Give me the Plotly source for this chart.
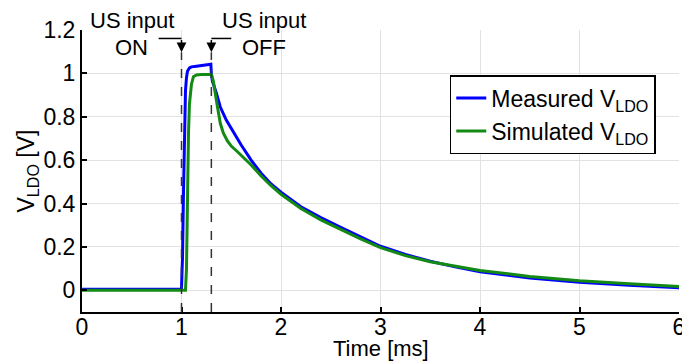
import plotly.graph_objects as go

# ---- data ----
t_meas = [0, 0.5, 0.99, 1.00, 1.01, 1.02, 1.03, 1.04, 1.05, 1.06, 1.08, 1.10, 1.15, 1.20, 1.25, 1.295,
          1.30, 1.31, 1.35, 1.39, 1.45, 1.50, 1.56, 1.60, 1.70, 1.80, 1.90, 2.00, 2.20, 2.40, 2.60, 2.80,
          3.00, 3.25, 3.50, 3.75, 4.00, 4.50, 5.00, 5.50, 6.00]
v_meas = [0.005, 0.005, 0.005, 0.01, 0.15, 0.45, 0.75, 0.92, 0.98, 1.01, 1.025, 1.03, 1.033, 1.035, 1.037, 1.042,
          1.00, 0.965, 0.91, 0.845, 0.785, 0.745, 0.70, 0.67, 0.60, 0.54, 0.49, 0.452, 0.385, 0.335, 0.29, 0.245,
          0.203, 0.165, 0.134, 0.108, 0.086, 0.057, 0.037, 0.023, 0.012]

t_sim = [0, 1.04, 1.05, 1.06, 1.07, 1.08, 1.10, 1.12, 1.15, 1.20, 1.30, 1.32, 1.34, 1.36, 1.39, 1.42,
         1.46, 1.50, 1.56, 1.62, 1.70, 1.80, 1.90, 2.00, 2.20, 2.40, 2.60, 2.80, 3.00, 3.25, 3.50,
         3.75, 4.00, 4.50, 5.00, 5.50, 6.00]
v_sim = [0, 0, 0.1, 0.45, 0.72, 0.86, 0.95, 0.985, 0.993, 0.995, 0.995, 0.965, 0.915, 0.85, 0.77, 0.725,
         0.69, 0.665, 0.64, 0.615, 0.578, 0.527, 0.482, 0.443, 0.377, 0.325, 0.28, 0.237, 0.197, 0.16, 0.132,
         0.11, 0.091, 0.064, 0.044, 0.03, 0.018]

series_names = ["Measured V<sub>LDO</sub>", "Simulated V<sub>LDO</sub>"]
event_times = [1.0, 1.3]          # US input ON / OFF
event_labels = [["US input", "ON"], ["US input", "OFF"]]
x_title = "Time [ms]"
y_title = "V<sub>LDO</sub> [V]"

x_ticks = [0, 1, 2, 3, 4, 5, 6]
y_ticks = [0, 0.2, 0.4, 0.6, 0.8, 1.0, 1.2]

FONT = "Liberation Sans, Arial, sans-serif"

fig = go.Figure()
fig.add_trace(go.Scatter(x=t_meas, y=v_meas, mode="lines", name=series_names[0],
                         line=dict(color="#0000ff", width=3)))
fig.add_trace(go.Scatter(x=t_sim, y=v_sim, mode="lines", name=series_names[1],
                         line=dict(color="#138a13", width=3)))

y_top_dash = 1.097
y_bend = 1.161
for i, te in enumerate(event_times):
    # dashed event line
    fig.add_shape(type="line", x0=te, x1=te, y0=-0.1, y1=y_top_dash, xref="x", yref="y",
                  line=dict(color="#333333", width=1.5, dash="dash"), layer="above")
    # arrow pointing down onto the dashed line
    fig.add_annotation(x=te, y=y_top_dash, ax=te, ay=y_bend, axref="x", ayref="y",
                       xref="x", yref="y", showarrow=True, arrowhead=2, arrowsize=1.3,
                       arrowwidth=1.5, arrowcolor="black", text="")
    # horizontal leader
    if i == 0:
        fig.add_shape(type="line", x0=te - 0.23, x1=te, y0=y_bend, y1=y_bend,
                      line=dict(color="black", width=1.5))
        xl = te - 0.5
    else:
        fig.add_shape(type="line", x0=te, x1=te + 0.2, y0=y_bend, y1=y_bend,
                      line=dict(color="black", width=1.5))
        xl = te + 0.53
    fig.add_annotation(x=xl, y=1.035, xref="x", yref="paper", yanchor="middle",
                       text=event_labels[i][0], showarrow=False,
                       font=dict(size=22, color="black", family=FONT))
    fig.add_annotation(x=xl, y=1.12, xref="x", yref="y", yanchor="middle",
                       text=event_labels[i][1], showarrow=False,
                       font=dict(size=22, color="black", family=FONT))

# x-axis title placed just below the tick labels
fig.add_annotation(x=0.5, y=-0.128, xref="paper", yref="paper", xanchor="center", yanchor="middle",
                   text=x_title, showarrow=False, font=dict(size=22, color="black", family=FONT))

axis_common = dict(showline=True, linecolor="black", linewidth=2, ticks="inside", ticklen=5,
                   tickcolor="black", tickwidth=1.5, showgrid=True, gridcolor="#e2e2e2",
                   gridwidth=1, zeroline=False, mirror=False, ticklabeloverflow="allow",
                   tickfont=dict(size=23, color="black", family=FONT))

fig.update_xaxes(range=[0, 6], tickvals=x_ticks, ticktext=[str(v) for v in x_ticks],
                 ticklabelstandoff=-7, automargin=False, **axis_common)
fig.update_yaxes(range=[-0.1, 1.2], tickvals=y_ticks, ticktext=["0", "0.2", "0.4", "0.6", "0.8", "1", "1.2"],
                 title=dict(text=y_title, font=dict(size=23, color="black", family=FONT), standoff=2),
                 automargin=False, **axis_common)

fig.update_layout(
    width=682, height=364,
    margin=dict(l=82, r=3, t=30, b=52, autoexpand=False),
    plot_bgcolor="white", paper_bgcolor="white",
    font=dict(family=FONT, color="black"),
    legend=dict(x=0.616, y=0.84, xanchor="left", yanchor="top",
                bordercolor="black", borderwidth=1.5, bgcolor="white",
                font=dict(size=23, color="black", family=FONT),
                itemwidth=30, tracegroupgap=0),
    showlegend=True,
)

fig.write_html("out.html", config={"displayModeBar": False},
               post_script="document.body.style.margin='0';document.body.style.padding='0';")
